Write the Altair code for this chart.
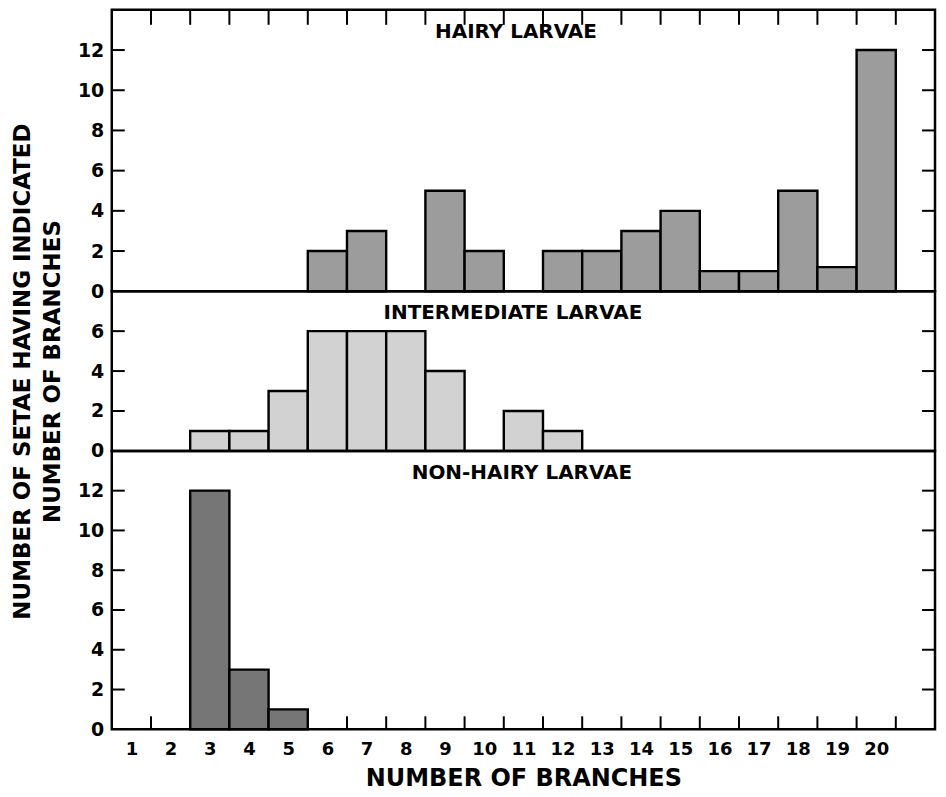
import altair as alt
import pandas as pd

# ---- data ----
hairy_branches = [6, 7, 9, 10, 12, 13, 14, 15, 16, 17, 18, 19, 20]
hairy_counts = [2, 3, 5, 2, 2, 2, 3, 4, 1, 1, 5, 1.2, 12]
inter_branches = [3, 4, 5, 6, 7, 8, 9, 11, 12]
inter_counts = [1, 1, 3, 6, 6, 6, 4, 2, 1]
non_branches = [3, 4, 5]
non_counts = [12, 3, 1]

x_labels = list(range(1, 21))
bin_edges = [b + 0.5 for b in range(1, 21)]
ticks_tall = [0, 2, 4, 6, 8, 10, 12]
ticks_mid = [0, 2, 4, 6]
titles = ["HAIRY LARVAE", "INTERMEDIATE LARVAE", "NON-HAIRY LARVAE"]

FONT = "DejaVu Sans"
W = 825
xscale = alt.Scale(domain=[0.5, 21.5], nice=False, zero=False)


def panel(branches, counts, fill, title, title_x, ymax, yticks, h,
          xaxis=None, ytitle=None, top_ticks=False, bottom_ticks=False):
    yscale = alt.Scale(domain=[0, ymax], nice=False, zero=True)
    yaxis_kw = dict(values=yticks, ticks=False, domain=False, grid=False,
                    labelFont=FONT, labelFontSize=19, labelFontWeight="bold",
                    labelColor="black", labelPadding=8, format="d")
    if ytitle is not None:
        yaxis_kw.update(title=ytitle, titleFont=FONT, titleFontSize=23,
                        titleFontWeight="bold", titleColor="black",
                        titlePadding=26, titleLineHeight=30)
        y_enc = alt.Y("n:Q", scale=yscale, axis=alt.Axis(**yaxis_kw))
    else:
        y_enc = alt.Y("n:Q", scale=yscale, axis=alt.Axis(**yaxis_kw), title=None)
    if xaxis is None:
        x_enc = alt.X("x0:Q", scale=xscale, axis=None)
    else:
        x_enc = alt.X("x0:Q", scale=xscale, axis=xaxis)

    df = pd.DataFrame({"b": branches, "n": counts})
    bars = alt.Chart(df).transform_calculate(
        x0="datum.b - 0.5", x1="datum.b + 0.5", z="0"
    ).mark_bar(fill=fill, stroke="black", strokeWidth=2.4).encode(
        x=x_enc, x2="x1:Q", y=y_enc, y2="z:Q"
    )

    tk = pd.DataFrame({"n": [v for v in yticks if v > 0]})
    left_ticks = alt.Chart(tk).mark_rule(color="black", strokeWidth=2).encode(
        y=y_enc, x=alt.value(0), x2=alt.value(13))
    right_ticks = alt.Chart(tk).mark_rule(color="black", strokeWidth=2).encode(
        y=y_enc, x=alt.value(W - 13), x2=alt.value(W))
    layers = [left_ticks, right_ticks]

    ed = pd.DataFrame({"x0": bin_edges})
    if top_ticks:
        layers.append(alt.Chart(ed).mark_rule(color="black", strokeWidth=2).encode(
            x=x_enc, y=alt.value(0), y2=alt.value(15)))
    if bottom_ticks:
        layers.append(alt.Chart(ed).mark_rule(color="black", strokeWidth=2).encode(
            x=x_enc, y=alt.value(h - 13), y2=alt.value(h)))
    layers.append(bars)

    ttl = alt.Chart(pd.DataFrame({"t": [title]})).mark_text(
        font=FONT, fontSize=20, fontWeight="bold", color="black",
        align="center", baseline="middle"
    ).encode(x=alt.value(title_x), y=alt.value(22), text="t:N")
    layers.append(ttl)
    return alt.layer(*layers).properties(width=W, height=h)


bottom_xaxis = alt.Axis(values=x_labels, ticks=False, domain=False, grid=False,
                        labelFont=FONT, labelFontSize=18, labelFontWeight="bold",
                        labelColor="black", labelPadding=11, format="d",
                        title="NUMBER OF BRANCHES", titleFont=FONT, titleFontSize=24,
                        titleFontWeight="bold", titleColor="black", titlePadding=8)

top = panel(hairy_branches, hairy_counts, "#9c9c9c", titles[0], 405, 14, ticks_tall, 282,
            top_ticks=True)
mid = panel(inter_branches, inter_counts, "#d2d2d2", titles[1], 402, 8, ticks_mid, 160,
            ytitle=["NUMBER OF SETAE HAVING INDICATED", "NUMBER OF BRANCHES"])
bot = panel(non_branches, non_counts, "#767676", titles[2], 411, 14, ticks_tall, 279,
            xaxis=bottom_xaxis, bottom_ticks=True)

chart = alt.vconcat(top, mid, bot, spacing=0, bounds="flush").properties(
    padding={"left": 2, "top": -2, "right": 0, "bottom": 0}
).configure_view(stroke="black", strokeWidth=2.5)

chart.save("out.html", embed_options={"renderer": "svg", "actions": False})
